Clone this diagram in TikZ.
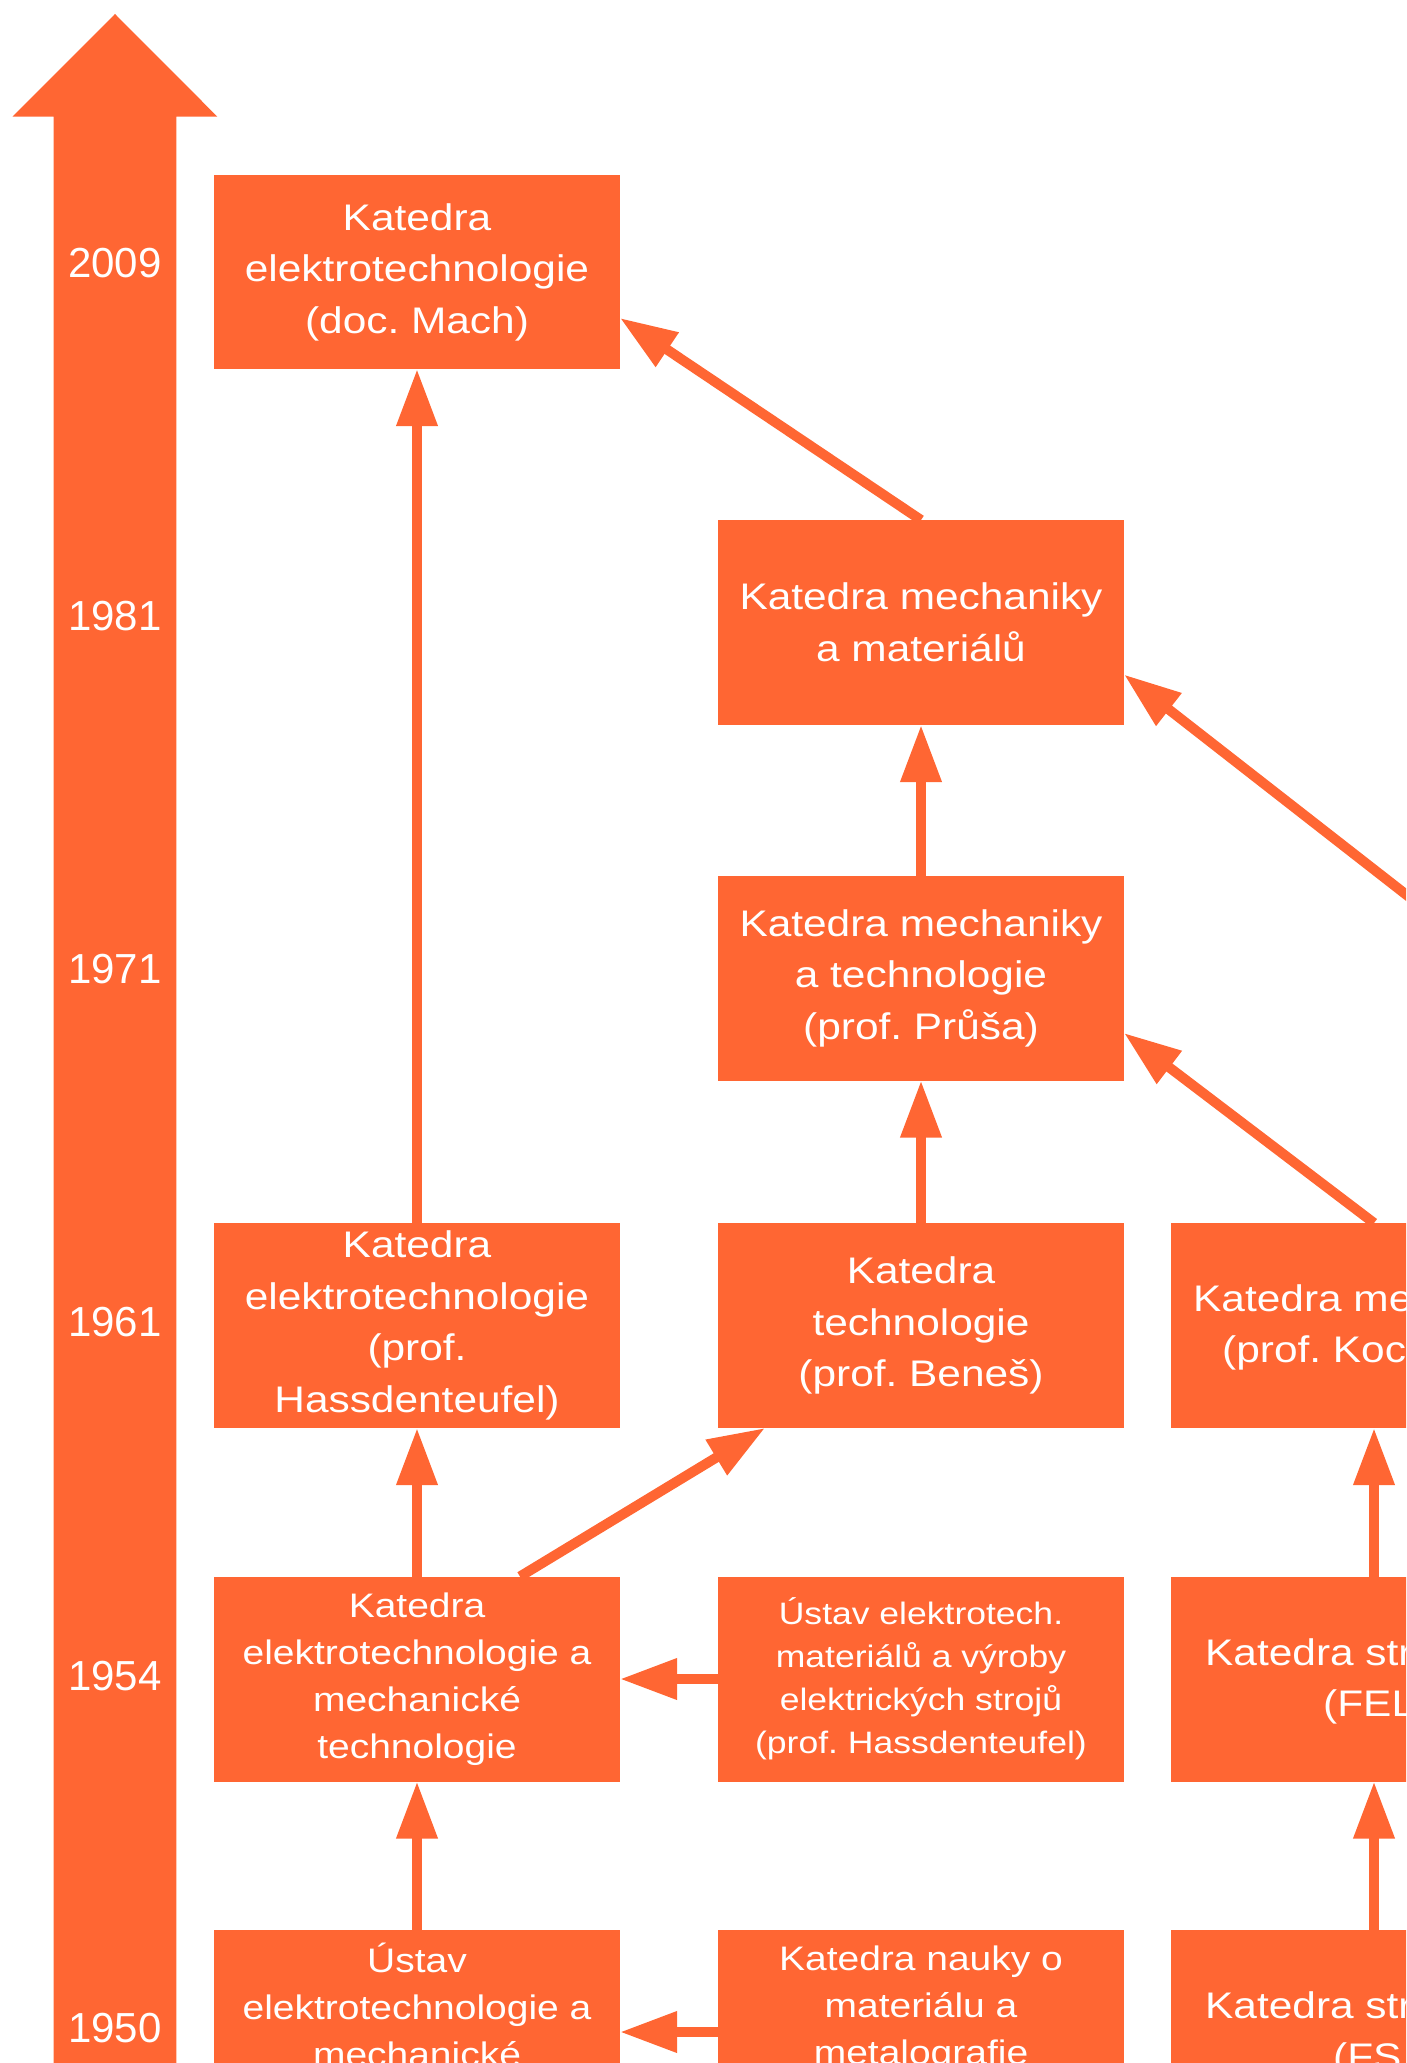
\documentclass[tikz,border=0pt]{standalone}
\usepackage{fontspec}
\setmainfont{Liberation Sans}
\newfontfamily\boxfont[FakeStretch=1.146]{Liberation Sans}
\usetikzlibrary{arrows.meta}
\definecolor{orng}{HTML}{FF6633}
\frenchspacing
\begin{document}
\begin{tikzpicture}[x=1pt,y=-1pt,
  box/.style={fill=orng,text=white,minimum width=406pt,minimum height=205pt,
    inner sep=0pt,outer sep=0pt,align=center,
    font=\boxfont\frenchspacing\fontsize{37}{51.5}\selectfont},
  midbox/.style={box,font=\boxfont\frenchspacing\fontsize{34}{47}\selectfont},
  smallbox/.style={box,font=\boxfont\frenchspacing\fontsize{31}{43}\selectfont},
  year/.style={text=white,inner sep=0pt,font=\fontsize{42}{50}\selectfont},
  frag/.style={text=white,inner sep=0pt,anchor=base west,
    font=\boxfont\frenchspacing\fontsize{37}{51.5}\selectfont},
  conn/.style={draw=orng,line width=10pt,-{Triangle[length=57pt,width=39pt]}}]
\useasboundingbox (0,0) rectangle (1406,2063);
\clip (0,0) rectangle (1406,2063);

% timeline arrow
\fill[orng] (53.6,2080) -- (53.6,116.7) -- (12.5,116.7) -- (115,14)
  -- (217.4,116.7) -- (176.3,116.7) -- (176.3,2080) -- cycle;
\node[year] (y2009) at (115,263) {2009};
\node[year] (y1981) at (115,616) {1981};
\node[year] (y1971) at (115,969) {1971};
\node[year] (y1961) at (115,1322) {1961};
\node[year] (y1954) at (115,1676) {1954};
\node[year] (y1950) at (115,2028) {1950};

% boxes
\node[box,minimum height=194pt] (B2009) at (417,272) {Katedra\\elektrotechnologie\\(doc. Mach)};
\node[box] (B1981) at (921,622.5) {Katedra mechaniky\\a materiálů};
\node[box] (B1971) at (921,978) {Katedra mechaniky\\a technologie\\(prof. Průša)};
\node[box] (B1961a) at (417,1325.5) {Katedra\\elektrotechnologie\\(prof.\\Hassdenteufel)};
\node[box] (B1961b) at (921,1325.5) {Katedra\\technologie\\(prof. Beneš)};
\node[box] (B1961c) at (1374,1325.5) {};
\node[midbox] (B1954a) at (417,1679) {Katedra\\elektrotechnologie a\\mechanické\\technologie};
\node[smallbox] (B1954b) at (921,1679) {Ústav elektrotech.\\materiálů a výroby\\elektrických strojů\\(prof. Hassdenteufel)};
\node[box] (B1954c) at (1374,1679) {};
\node[midbox] (B1950a) at (417,2032) {Ústav\\elektrotechnologie a\\mechanické\\\vphantom{g}};
\node[midbox] (B1950b) at (921,2032) {Katedra nauky o\\materiálu a\\metalografie\\\vphantom{g}};
\node[box] (B1950c) at (1374,2032) {};

% clipped texts of the third column
\node[frag] (t1) at (1193,1311) {Katedra me};
\node[frag] (t2) at (1222,1362) {(prof. Koc};
\node[frag] (t3) at (1205,1665) {Katedra str};
\node[frag] (t4) at (1323,1716) {(FEL};
\node[frag] (t5) at (1205,2018) {Katedra str};
\node[frag] (t6) at (1333,2069) {(FS};

\coordinate (c4) at (1827,1223);

% connectors
\draw[conn] (B1961a.north) -- (B2009.south);
\draw[conn] (B1981.north) -- ([yshift=-46pt]B2009.east);
\draw[conn] (B1971.north) -- (B1981.south);
\draw[conn] (c4) -- ([yshift=-52pt]B1981.east);
\draw[conn] (B1961b.north) -- (B1971.south);
\draw[conn] (B1961c.north) -- ([yshift=-55pt]B1971.east);
\draw[conn] (B1954a.north) -- (B1961a.south);
\draw[conn] ([xshift=103pt]B1954a.north) -- ([xshift=47pt]B1961b.south west);
\draw[conn] (B1954c.north) -- (B1961c.south);
\draw[conn] (B1954b.west) -- (B1954a.east);
\draw[conn] (B1950a.north) -- (B1954a.south);
\draw[conn] (B1950c.north) -- (B1954c.south);
\draw[conn] (B1950b.west) -- (B1950a.east);
\end{tikzpicture}
\end{document}
